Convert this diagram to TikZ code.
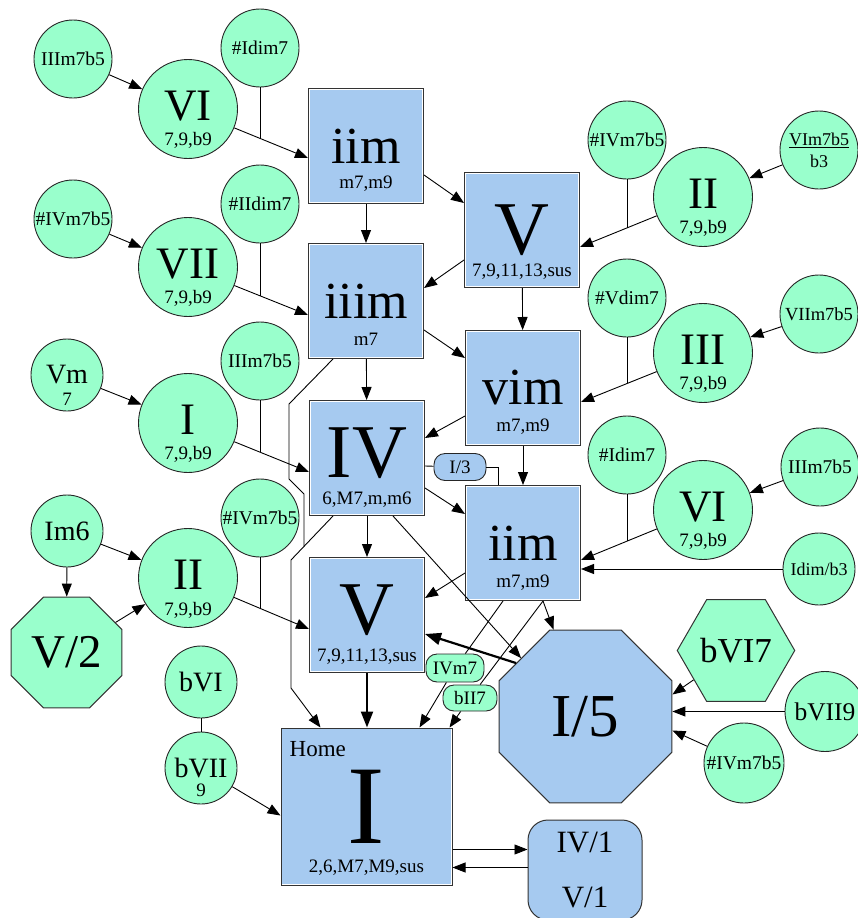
\documentclass[tikz,border=0pt]{standalone}
\usepackage{fontspec}
\setmainfont{Liberation Serif}
\usetikzlibrary{arrows.meta,shapes.geometric}
\definecolor{keyblue}{HTML}{A6CAF0}
\definecolor{mint}{HTML}{99FFCC}
\begin{document}
\begin{tikzpicture}[
x=1pt, y=-1pt,
keybox/.style={rectangle, draw=black!80, line width=1pt, fill=keyblue, inner sep=0pt,
  minimum width=115pt, minimum height=115pt, font=\fontsize{52}{54}\selectfont,
  path picture={\draw[white, line width=2.6pt] (path picture bounding box.south west) rectangle (path picture bounding box.north east);}},
romanbox/.style={keybox, font=\fontsize{76}{78}\selectfont},
secdot/.style={circle, draw=black!85, line width=0.9pt, fill=mint, inner sep=0pt},
bigsec/.style={secdot, minimum size=99pt, text depth=6pt, font=\fontsize{45}{47}\selectfont},
smallsec/.style={secdot, minimum size=78pt, font=\fontsize{19.5}{21}\selectfont},
midsec/.style={secdot, minimum size=72pt, font=\fontsize{28}{30}\selectfont},
octo/.style={regular polygon, regular polygon sides=8, draw=black!80, line width=1pt, inner sep=0pt},
subtxt/.style={font=\fontsize{19}{20}\selectfont},
pill/.style={rectangle, rounded corners=11pt, draw=black!85, line width=0.9pt, inner sep=0pt,
  minimum height=27pt, font=\fontsize{19}{20}\selectfont},
arr/.style={-{Triangle[length=13pt,width=10pt]}, line width=0.9pt},
heavyarr/.style={-{Triangle[length=16pt,width=12pt]}, line width=2.2pt},
tie/.style={line width=0.9pt}
]
\useasboundingbox (0,0) rectangle (857,918);

\node[keybox, label={[subtxt,yshift=-38pt]center:{m7,m9}}] (iiA) at (366,146) {iim};
\node[romanbox, label={[subtxt,yshift=-42pt]center:{7,9,11,13,sus}}] (VA) at (522,230) {V};
\node[keybox, label={[subtxt,yshift=-38pt]center:{m7}}] (iii) at (366,301) {iiim};
\node[keybox, label={[subtxt,yshift=-39pt]center:{m7,m9}}] (vi) at (523,388) {vim};
\node[romanbox, text depth=11pt, label={[subtxt,yshift=-42pt]center:{6,M7,m,m6}}] (IV) at (367,458) {IV};
\node[keybox, label={[subtxt,yshift=-40pt]center:{m7,m9}}] (iiB) at (523,543) {iim};
\node[romanbox, text depth=10pt, label={[subtxt,yshift=-42pt]center:{7,9,11,13,sus}}] (VB) at (367,615) {V};
\node[keybox, minimum width=171pt, minimum height=157pt, font=\fontsize{112}{112}\selectfont,
  label={[subtxt,yshift=-61pt]center:{2,6,M7,M9,sus}}] (home) at (366.5,806.5) {I};
\node[font=\fontsize{23}{24}\selectfont, anchor=base west, inner sep=0pt] (hometag) at ([xshift=9pt,yshift=-29pt]home.north west) {Home};
\node[octo, minimum size=187pt, fill=keyblue, font=\fontsize{61}{62}\selectfont] (Ifive) at (585.5,716.5) {I/5};
\node[rectangle, rounded corners=20pt, draw=black!80, line width=1pt, fill=keyblue, minimum width=114pt,
  minimum height=100pt, align=center, font=\fontsize{31}{55}\selectfont] (IVone) at (585,870) {IV/1\\V/1};
\node[pill, fill=keyblue, minimum width=52pt] (Ithree) at (460,467) {I/3};

\node[smallsec] (IIIhA) at (73,59) {IIIm7b5};
\node[bigsec, label={[subtxt,yshift=-31pt]center:{7,9,b9}}] (VIa) at (188,109) {VI};
\node[smallsec] (sIa) at (260,48) {\#Idim7};
\node[smallsec] (sIVa) at (73,219) {\#IVm7b5};
\node[bigsec, label={[subtxt,yshift=-31pt]center:{7,9,b9}}] (VIIa) at (188,267) {VII};
\node[smallsec] (sIIa) at (260,204) {\#IIdim7};
\node[midsec, label={[subtxt,yshift=-24pt]center:{7}}] (Vm) at (67,375) {Vm};
\node[bigsec, label={[subtxt,yshift=-31pt]center:{7,9,b9}}] (Ia) at (188,423) {I};
\node[smallsec] (IIIhB) at (260,361) {IIIm7b5};
\node[midsec] (Imsix) at (67,531) {Im6};
\node[bigsec, label={[subtxt,yshift=-32pt]center:{7,9,b9}}] (IIa) at (188,578) {II};
\node[smallsec] (sIVb) at (260,518) {\#IVm7b5};
\node[octo, minimum size=120pt, fill=mint, font=\fontsize{47}{48}\selectfont] (Vtwo) at (66.5,652.5) {V/2};
\node[midsec] (bVI) at (201,682) {bVI};
\node[midsec, label={[subtxt,yshift=-22pt]center:{9}}] (bVII) at (201,768) {bVII};

\node[smallsec] (sIVc) at (627,140) {\#IVm7b5};
\node[bigsec, label={[subtxt,yshift=-31pt]center:{7,9,b9}}] (IIb) at (703,197) {II};
\node[smallsec, align=center, font=\fontsize{18}{22}\selectfont] (VIhb) at (819,150) {\underline{VIm7b5}\\b3};
\node[smallsec] (sVc) at (627,298) {\#Vdim7};
\node[bigsec, label={[subtxt,yshift=-31pt]center:{7,9,b9}}] (IIIb) at (703,353) {III};
\node[smallsec, font=\fontsize{18.5}{20}\selectfont] (VIIh) at (819,314) {VIIm7b5};
\node[smallsec] (sIc) at (627,455) {\#Idim7};
\node[bigsec, label={[subtxt,yshift=-31pt]center:{7,9,b9}}] (VIb) at (703,510) {VI};
\node[smallsec] (IIIhC) at (820,467) {IIIm7b5};
\node[midsec, font=\fontsize{18}{20}\selectfont] (Idimb) at (819,569) {Idim/b3};
\node[regular polygon, regular polygon sides=6, draw=black!80, line width=1pt, inner sep=0pt, fill=mint,
  minimum size=114pt, font=\fontsize{35}{36}\selectfont] (bVIseven) at (736,650.5) {bVI7};
\node[secdot, minimum size=80pt, font=\fontsize{25.5}{27}\selectfont] (bVIInine) at (825,711.5) {bVII9};
\node[smallsec, minimum size=80pt] (sIVd) at (744,763) {\#IVm7b5};
\node[pill, fill=mint, minimum width=58pt, minimum height=28pt] (IVmseven) at (455,668) {IVm7};
\node[pill, fill=mint, minimum width=54pt, minimum height=26pt] (bIIseven) at (470,698) {bII7};

\draw[arr] (IIIhA) -- (VIa);
\draw[arr] (VIa) -- coordinate[pos=0.35] (jA) ([yshift=-12pt]iiA.west);
\draw[tie] (sIa) -- (sIa |- jA);
\draw[arr] (sIVa) -- (VIIa);
\draw[arr] (VIIa) -- coordinate[pos=0.35] (jB) ([yshift=-14pt]iii.west);
\draw[tie] (sIIa) -- (sIIa |- jB);
\draw[arr] (Vm) -- (Ia);
\draw[arr] (Ia) -- coordinate[pos=0.35] (jC) ([yshift=-14pt]IV.west);
\draw[tie] (IIIhB) -- (IIIhB |- jC);
\draw[arr] (Imsix) -- (IIa);
\draw[arr] (Imsix) -- (Vtwo);
\draw[arr] (Vtwo) -- (IIa);
\draw[arr] (IIa) -- coordinate[pos=0.35] (jD) ([yshift=-14pt]VB.west);
\draw[tie] (sIVb) -- (sIVb |- jD);
\draw[tie] (bVI) -- (bVII);
\draw[arr] (bVII) -- ([yshift=-9pt]home.west);

\draw[arr] (iiA) -- (iii);
\draw[arr] ([yshift=-29pt]iiA.east) -- ([yshift=27pt]VA.west);
\draw[arr] ([yshift=-30pt]VA.west) -- ([yshift=13pt]iii.east);
\draw[arr] (VA) -- (vi);
\draw[arr] ([yshift=-29pt]iii.east) -- ([yshift=30pt]vi.west);
\draw[arr] (iii) -- (IV);
\draw[arr] ([yshift=-28pt]vi.west) -- ([yshift=20pt]IV.east);
\draw[arr] (vi) -- (iiB);
\draw[arr] ([yshift=-30pt]IV.east) -- ([yshift=29pt]iiB.west);
\draw[tie] ([yshift=-8pt]IV.east) -- (Ithree);
\draw[tie] (Ithree.east) -| ([xshift=-25pt]iiB.north);
\draw[arr] (IV) -- (VB);
\draw[arr] ([yshift=-30pt]iiB.west) -- ([yshift=17pt]VB.east);
\draw[arr] ([xshift=-34pt]IV.south) -- coordinate[pos=0.69] (mIV) (291,560) -- (291,688) -- ([xshift=-46pt]home.north);
\draw[tie] ([xshift=-33pt]iii.south) -- (289,404) -- (289,479) -- (304,494) -- (mIV);
\draw[arr] ([xshift=26pt]IV.south) -- ([xshift=-3pt,yshift=-3pt]Ifive.135);
\draw[arr] ([xshift=20pt]iiB.south) -- (Ifive);
\draw[tie] ([xshift=-20pt]iiB.south) -- (IVmseven);
\draw[tie] ([xshift=20pt]iiB.south) -- (bIIseven);
\draw[arr] (IVmseven) -- ([xshift=53pt]home.north);
\draw[arr] (bIIseven) -- ([xshift=83pt]home.north);
\draw[heavyarr] ([xshift=-8pt,yshift=-8pt]Ifive.135) -- ([yshift=-19pt]VB.east);
\draw[heavyarr] (VB) -- (VB |- home.north);
\coordinate (hout) at ([yshift=-43pt]home.east);
\coordinate (hin) at ([yshift=-61pt]home.east);
\draw[arr] (hout) -- (hout -| IVone.west);
\draw[arr] (hin -| IVone.west) -- (hin);

\draw[arr] (IIb) -- coordinate[pos=0.39] (jE) ([yshift=-17pt]VA.east);
\draw[tie] (sIVc) -- (sIVc |- jE);
\draw[arr] (VIhb) -- (IIb);
\draw[arr] (IIIb) -- coordinate[pos=0.39] (jF) ([yshift=-14pt]vi.east);
\draw[tie] (sVc) -- (sVc |- jF);
\draw[arr] (VIIh) -- (IIIb);
\draw[arr] (VIb) -- coordinate[pos=0.39] (jG) ([yshift=-17pt]iiB.east);
\draw[tie] (sIc) -- (sIc |- jG);
\draw[arr] (IIIhC) -- (VIb);
\draw[arr] (Idimb) -- (Idimb -| iiB.east);
\draw[arr] (bVIseven) -- ([yshift=22pt]Ifive.0);
\draw[arr] (bVIInine) -- (bVIInine -| Ifive.0);
\draw[arr] (sIVd) -- ([yshift=-14pt]Ifive.0);
\end{tikzpicture}
\end{document}
